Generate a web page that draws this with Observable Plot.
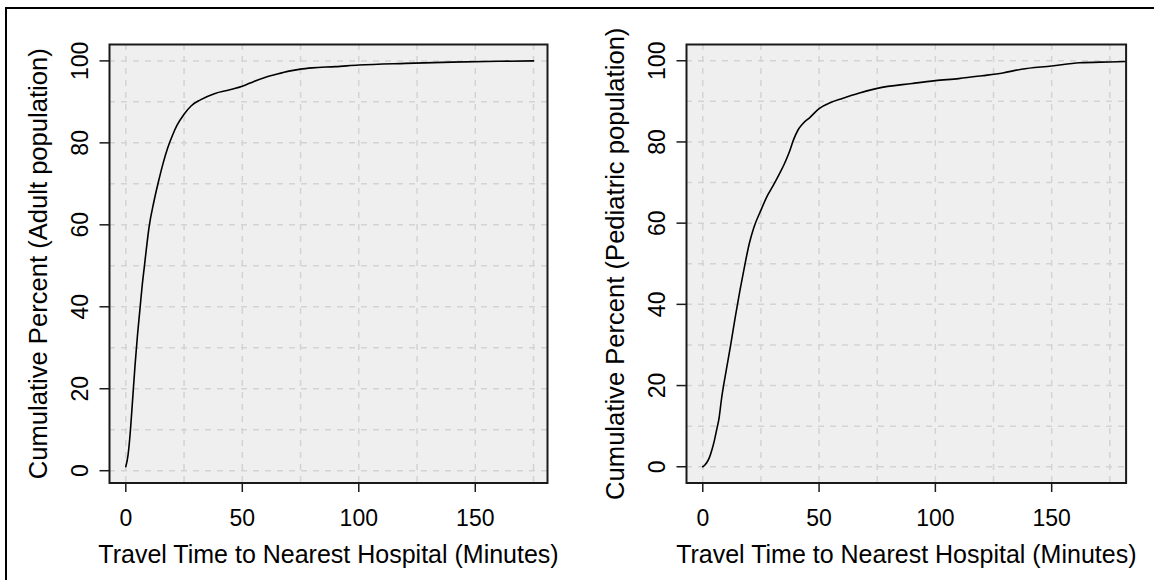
<!DOCTYPE html>
<html><head><meta charset="utf-8">
<script src="https://cdn.jsdelivr.net/npm/d3@7"></script>
<script src="https://cdn.jsdelivr.net/npm/@observablehq/plot@0.6"></script>
<style>
html,body{margin:0;padding:0;background:#fff;}
#wrap{position:relative;width:1154px;height:580px;overflow:hidden;}
#border{position:absolute;left:5px;top:7px;width:1200px;height:600px;border-left:2px solid #000;border-top:2px solid #000;}
#left,#right{position:absolute;top:0;}
#left{left:0;} #right{left:577px;}
</style></head><body>
<div id="wrap"><div id="border"></div><div id="left"></div><div id="right"></div></div>
<script>
const adultMinutes = [0,1,2,3,4,5,6,7,8,9,10,12,14,16,18,20,22,25,28,32,38,45,50,55,60,65,70,75,80,90,100,120,140,160,175];
const adultPercent = [1,4,10,18,26,33,39,45,50,55,59.5,65.5,70.5,75,78.8,81.8,84.3,87,89,90.5,92,93,93.8,95,96,96.8,97.5,98,98.3,98.6,99,99.4,99.7,99.9,100];
const pedMinutes = [0,1,2,3,4,5,6,7,8,10,12,14,16,18,20,22,25,28,30,33,35,37,39,41,43,46,50,55,60,67,75,90,100,110,120,129,137,150,162,175,182];
const pedPercent = [0,0.5,1.3,2.5,4.3,6.5,9.2,12,16.5,23.5,30,37,43.5,49.5,55,59,63.2,67,69,72.2,74.5,77.2,80.5,83,84.5,86,88.2,89.7,90.7,92,93.2,94.4,95.1,95.6,96.3,97,97.9,98.7,99.5,99.7,99.8];
const xTicks = [0,50,100,150];
const yTicks = [0,20,40,60,80,100];
const xGrid = [0,25,50,75,100,125,150,175];
const yGrid = [0,10,20,30,40,50,60,70,80,90,100];
const xLabel = "Travel Time to Nearest Hospital (Minutes)";
const yLabelAdult = "Cumulative Percent (Adult population)";
const yLabelPed = "Cumulative Percent (Pediatric population)";

function panel(minutes, percent, yLabel, xDomain, yDomain, marginRight) {
  const data = minutes.map((m, i) => ({m, p: percent[i]}));
  return Plot.plot({
    width: 577, height: 580,
    marginLeft: 109, marginRight, marginTop: 44, marginBottom: 97.5,
    style: {fontFamily: "'Liberation Sans', Arial, sans-serif", fontSize: "23px", color: "#000", background: "transparent", overflow: "visible"},
    x: {domain: xDomain},
    y: {domain: yDomain},
    marks: [
      Plot.frame({fill: "#efefef"}),
      Plot.ruleX(xGrid, {stroke: "#d3d3d3", strokeWidth: 1.5, strokeDasharray: "6,6"}),
      Plot.ruleY(yGrid, {stroke: "#d3d3d3", strokeWidth: 1.5, strokeDasharray: "6,6"}),
      Plot.line(data, {x: "m", y: "p", stroke: "#000", strokeWidth: 1.6, clip: true, curve: "monotone-x"}),
      Plot.frame({stroke: "#1a1a1a", strokeWidth: 2}),
      Plot.axisX({ticks: xTicks, tickSize: 9.5, tickPadding: 16.7, label: null, strokeWidth: 1.5, stroke: "#1a1a1a"}),
      Plot.axisY({ticks: yTicks, tickSize: 9.5, tickPadding: 12, tickRotate: -90, label: null, strokeWidth: 1.5, stroke: "#1a1a1a"}),
      Plot.text([xLabel], {text: d => d, frameAnchor: "bottom", dy: 80, lineAnchor: "bottom", fontSize: 25}),
      Plot.text([yLabel], {text: d => d, frameAnchor: "left", dx: -71, rotate: -90, textAnchor: "middle", lineAnchor: "middle", fontSize: 25.6})
    ]
  });
}

document.getElementById("left").appendChild(panel(adultMinutes, adultPercent, yLabelAdult, [-7, 181], [-3, 104], 30));
document.getElementById("right").appendChild(panel(pedMinutes, pedPercent, yLabelPed, [-7, 182], [-4, 104], 28.4));
</script>
</body></html>
